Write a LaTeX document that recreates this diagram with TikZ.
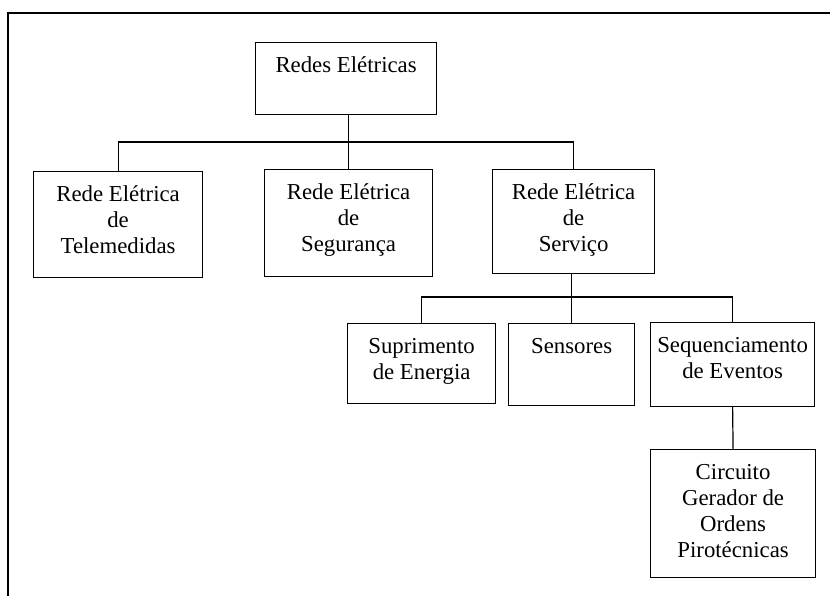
\documentclass[tikz,border=0pt]{standalone}
\usepackage{fontspec}
\setmainfont{Liberation Serif}
\newcommand{\celltext}[1]{\begin{tabular}[t]{@{}c@{}}#1\end{tabular}}

\begin{document}
\begin{tikzpicture}[x=1pt, y=-1pt,
    every node/.style={font=\fontsize{22.8}{26}\selectfont},
    box/.style={draw, line width=1.2pt, anchor=north west, inner sep=0pt, text height=30pt},
    link/.style={line width=1.2pt}]
    \useasboundingbox (0,0) rectangle (830,596);

    % Outer frame
    \draw[line width=2pt] (8,597) -- (8,13) -- (831,13);

    % Top level
    \node[box, minimum width=181pt, text depth=42pt] (redes) at (255,42) {\celltext{Redes Elétricas}};

    % Networks
    \node[box, minimum width=169pt, text depth=76pt] (tele) at (33,171) {\celltext{Rede Elétrica\\de\\Telemedidas}};
    \node[box, minimum width=168pt, text depth=77pt] (seg) at (264,169) {\celltext{Rede Elétrica\\de\\Segurança}};
    \node[box, minimum width=162pt, text depth=74pt] (serv) at (492,169) {\celltext{Rede Elétrica\\de\\Serviço}};

    % Service network parts
    \node[box, minimum width=148pt, text depth=50pt] (supr) at (347,323) {\celltext{Suprimento\\de Energia}};
    \node[box, minimum width=126pt, text depth=52pt] (sens) at (508,323) {\celltext{Sensores}};
    \node[box, minimum width=164pt, text depth=54pt] (seq) at (650,322) {\celltext{Sequenciamento\\de Eventos}};

    % Pyro circuit
    \node[box, minimum width=165pt, text depth=98pt] (circ) at (650,449) {\celltext{Circuito\\Gerador de\\Ordens\\Pirotécnicas}};

    % Buses
    \coordinate (bus1) at (349,142);
    \coordinate (bus2) at (572,297);

    % Connectors
    \draw[link] (seg.north) -- (seg.north |- redes.south);
    \draw[link] (tele.north) |- (bus1) -| (serv.north);
    \draw[link] (sens.north) -- (sens.north |- serv.south);
    \draw[link] (supr.north) |- (bus2) -| (seq.north);
    \draw[link] (circ.north) -- (seq.south);
\end{tikzpicture}
\end{document}
